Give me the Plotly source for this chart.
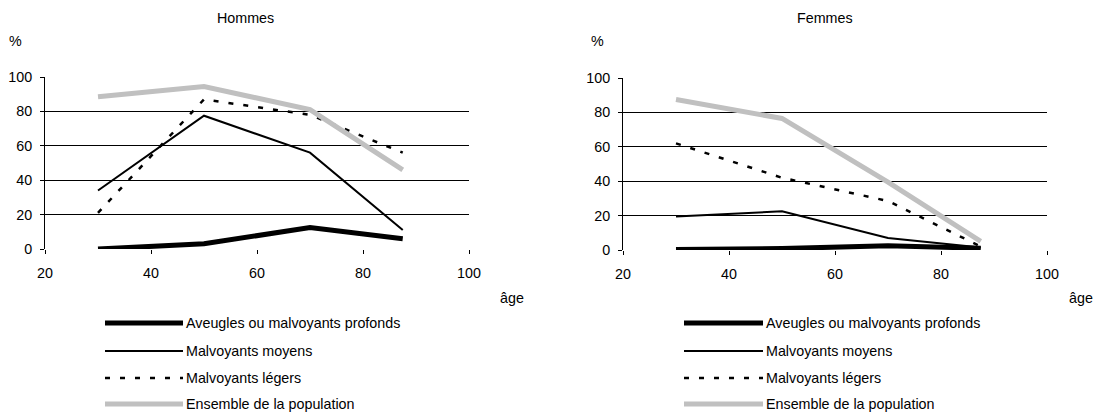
import plotly.graph_objects as go

W, H = 1097, 414

ages = [30, 50, 70, 87.5]
series_names = ["Aveugles ou malvoyants profonds", "Malvoyants moyens",
                "Malvoyants légers", "Ensemble de la population"]

hommes_aveugles = [0, 3, 12.5, 6]
hommes_moyens = [34, 77.5, 56, 11]
hommes_legers = [21, 87, 78, 56]
hommes_ensemble = [88.5, 94.5, 81, 46]

femmes_aveugles = [0.3, 0.8, 2.5, 1]
femmes_moyens = [19.5, 22.5, 7, 1.5]
femmes_legers = [62, 42, 28.5, 2]
femmes_ensemble = [87.5, 76.5, 39.5, 5]

panel_titles = ["Hommes", "Femmes"]
y_ticks = [0, 20, 40, 60, 80, 100]
x_ticks = [20, 40, 60, 80, 100]

styles = [
    dict(color="black", width=5, dash="solid"),
    dict(color="black", width=2, dash="solid"),
    dict(color="black", width=2.5, dash="5px,10px"),
    dict(color="#c0c0c0", width=5, dash="solid"),
]

FONT = "Arial, Liberation Sans, sans-serif"
FS = 14.3

fig = go.Figure()

panels = [
    ("x", "y", [hommes_aveugles, hommes_moyens, hommes_legers, hommes_ensemble]),
    ("x2", "y2", [femmes_aveugles, femmes_moyens, femmes_legers, femmes_ensemble]),
]
for xa, ya, data in panels:
    for name, vals, st in zip(series_names, data, styles):
        fig.add_trace(go.Scatter(x=ages, y=vals, mode="lines", name=name,
                                 xaxis=xa, yaxis=ya, showlegend=False,
                                 line=dict(color=st["color"], width=st["width"], dash=st["dash"]),
                                 hoverinfo="skip"))

def px_x(p):
    return p / W

def px_y(p):
    return 1 - p / H

axis_common_x = dict(range=[20, 100], tickvals=x_ticks, showgrid=False, zeroline=False,
                     ticks="outside", ticklen=4, tickcolor="black", showline=False,
                     ticklabelstandoff=7,
                     tickfont=dict(family=FONT, size=FS, color="black"), automargin=False,
                     fixedrange=True)
axis_common_y = dict(range=[0, 100], tickvals=y_ticks, showgrid=True, gridcolor="black",
                     gridwidth=1, zeroline=False, ticks="outside", ticklen=4, tickcolor="black",
                     showline=True, linecolor="black", linewidth=1,
                     ticklabelstandoff=5,
                     tickfont=dict(family=FONT, size=FS, color="black"), automargin=False,
                     fixedrange=True)

fig.update_layout(
    width=W, height=H,
    margin=dict(l=0, r=0, t=0, b=0),
    paper_bgcolor="white", plot_bgcolor="white",
    template="none",
    showlegend=False,
    font=dict(family=FONT, size=FS, color="black"),
    xaxis=dict(domain=[px_x(45), px_x(469)], anchor="y", **axis_common_x),
    yaxis=dict(domain=[px_y(249), px_y(77)], anchor="x", **axis_common_y),
    xaxis2=dict(domain=[px_x(623), px_x(1047)], anchor="y2", **axis_common_x),
    yaxis2=dict(domain=[px_y(250), px_y(78)], anchor="x2", **axis_common_y),
)

annotations = []
shapes = []
panel_centers = [245, 825]
pct_x = [15, 597]
age_x = [512, 1081]
legend_line_x = [(105, 183), (684, 763)]
legend_rows = [323, 351, 378, 404]

for i in range(2):
    annotations.append(dict(text=panel_titles[i], x=px_x(panel_centers[i]), y=px_y(18),
                            xref="paper", yref="paper", showarrow=False,
                            xanchor="center", yanchor="middle",
                            font=dict(family=FONT, size=FS, color="black")))
    annotations.append(dict(text="%", x=px_x(pct_x[i]), y=px_y(41),
                            xref="paper", yref="paper", showarrow=False,
                            xanchor="center", yanchor="middle",
                            font=dict(family=FONT, size=FS, color="black")))
    annotations.append(dict(text="âge", x=px_x(age_x[i]), y=px_y(298),
                            xref="paper", yref="paper", showarrow=False,
                            xanchor="center", yanchor="middle",
                            font=dict(family=FONT, size=FS, color="black")))
    x0, x1 = legend_line_x[i]
    for name, st, ry in zip(series_names, styles, legend_rows):
        shapes.append(dict(type="line", xref="paper", yref="paper",
                           x0=px_x(x0), x1=px_x(x1), y0=px_y(ry), y1=px_y(ry),
                           line=dict(color=st["color"], width=st["width"], dash=st["dash"])))
        annotations.append(dict(text=name, x=px_x(x1 + 1), y=px_y(ry), xref="paper", yref="paper",
                                xanchor="left", yanchor="middle", showarrow=False,
                                font=dict(family=FONT, size=FS, color="black")))

fig.update_layout(annotations=annotations, shapes=shapes)

fig.write_html("out.html", config={"displayModeBar": False},
               post_script="document.body.style.margin='0';document.body.style.overflow='hidden';")
